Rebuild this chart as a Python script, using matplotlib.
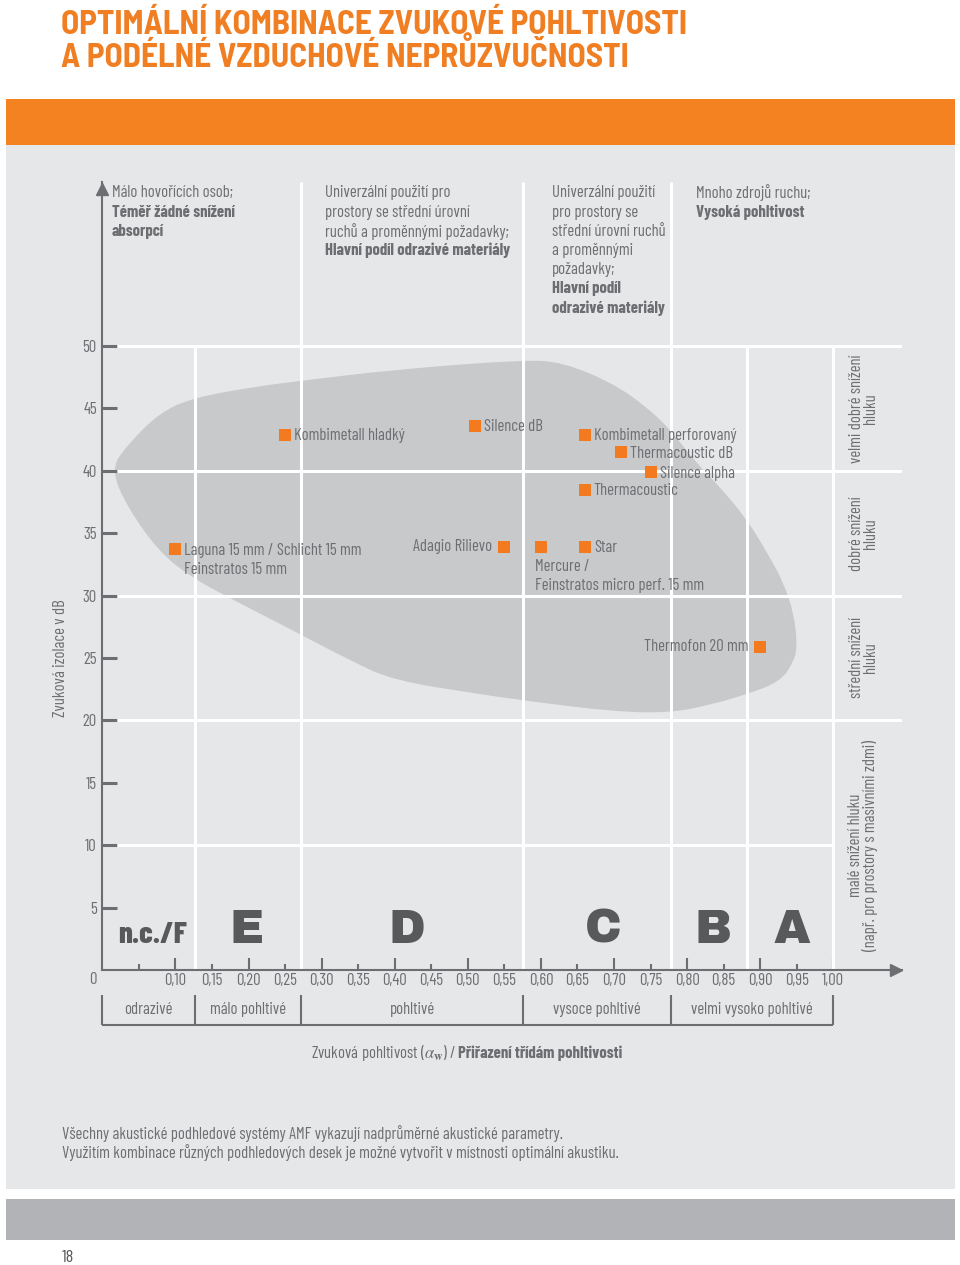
import matplotlib as mpl
import matplotlib.pyplot as plt
from matplotlib.patches import Rectangle, PathPatch
from matplotlib.path import Path
import numpy as np

BODY = ['Barlow Condensed', 'Liberation Sans', 'DejaVu Sans']
TITLE = ['Barlow Semi Condensed', 'Barlow Condensed', 'Liberation Sans',
         'DejaVu Sans']
HEAVY = ['Archivo Black', 'Liberation Sans', 'DejaVu Sans']
mpl.rcParams['font.family'] = BODY
mpl.rcParams['mathtext.fontset'] = 'stix'

ORANGE = '#F07E22'
MARK = '#F47A20'
PANEL = '#E6E7E8'
BLOB = '#C8C9CB'
TEXT = '#6D6E71'
DARK = '#58595B'
FS = 12

# --- data -------------------------------------------------------------
y_ticks = [5, 10, 15, 20, 25, 30, 35, 40, 45, 50]
x_major = [0.10, 0.20, 0.30, 0.40, 0.50, 0.60, 0.70, 0.80, 0.90, 1.00]
x_minor = [0.05, 0.15, 0.25, 0.35, 0.45, 0.55, 0.65, 0.75, 0.85, 0.95]

class_bounds = [0.0, 0.127, 0.272, 0.576, 0.778, 1.0]
class_names = ['odrazivé', 'málo pohltivé', 'pohltivé', 'vysoce pohltivé',
               'velmi vysoko pohltivé']
header_bounds = [0.272, 0.576, 0.778]
class_grid = [0.127, 0.882, 1.0]
letters = ['n.c./F', 'E', 'D', 'C', 'B', 'A']
letter_x = [0.068, 0.197, 0.416, 0.685, 0.835, 0.944]

products = ['Kombimetall hladký', 'Silence dB',
            'Laguna 15 mm / Schlicht 15 mm\nFeinstratos 15 mm',
            'Adagio Rilievo', 'Mercure /\nFeinstratos micro perf. 15 mm',
            'Star', 'Kombimetall perforovaný', 'Thermacoustic dB',
            'Silence alpha', 'Thermacoustic', 'Thermofon 20 mm']
alpha_w = [0.25, 0.51, 0.10, 0.55, 0.60, 0.66, 0.66, 0.71, 0.75, 0.66, 0.90]
isolation = [42.9, 43.6, 33.7, 33.9, 33.9, 33.9, 42.9, 41.5, 39.9, 38.5, 25.9]
label_side = ['right', 'right', 'right', 'left', 'below', 'right', 'right',
              'right', 'right', 'right', 'left']

# outline of the grey region (alpha_w, dB)
blob_alpha = [0.012, 0.033, 0.079, 0.127, 0.216, 0.271, 0.398, 0.576, 0.630,
              0.699, 0.745, 0.777, 0.813, 0.845, 0.882, 0.913, 0.932, 0.946,
              0.951, 0.945, 0.927, 0.882, 0.835, 0.778, 0.699, 0.576, 0.517,
              0.398, 0.339, 0.261, 0.171, 0.124, 0.079, 0.034]
blob_db = [40.1, 42.0, 44.7, 45.9, 46.8, 47.2, 48.1, 48.9, 48.7, 47.0, 45.1,
           43.3, 40.6, 38.7, 36.1, 33.1, 31.0, 28.6, 25.9, 24.6, 23.1, 22.1,
           21.3, 20.6, 20.7, 21.6, 22.1, 23.2, 24.8, 27.2, 29.9, 31.4, 33.4,
           37.1]

noise_bands = [(40, 50), (30, 40), (20, 30), (0, 20)]
noise_labels = ['velmi dobré snížení\nhluku', 'dobré snížení\nhluku',
                'střední snížení\nhluku',
                'malé snížení hluku\n(např. pro prostory s masivními zdmi)']

header_cols = [
    [('Málo hovořících osob;', False), ('Téměř žádné snížení', True),
     ('absorpcí', True)],
    [('Univerzální použití pro', False), ('prostory se střední úrovní', False),
     ('ruchů a proměnnými požadavky;', False),
     ('Hlavní podíl odrazivé materiály', True)],
    [('Univerzální použití', False), ('pro prostory se', False),
     ('střední úrovní ruchů', False), ('a proměnnými', False),
     ('požadavky;', False), ('Hlavní podíl', True),
     ('odrazivé materiály', True)],
    [('Mnoho zdrojů ruchu;', False), ('Vysoká pohltivost', True)],
]
header_x = [112, 325, 552, 696]

# --- figure -----------------------------------------------------------
W, H = 960, 1265
fig = plt.figure(figsize=(W / 100, H / 100), dpi=100)

bg = fig.add_axes([0, 0, 1, 1], zorder=0)
bg.set_xlim(0, W)
bg.set_ylim(H, 0)
bg.axis('off')

bg.add_patch(Rectangle((6, 99), 949, 46, color='#F58220', lw=0))
bg.add_patch(Rectangle((6, 145), 949, 1044, color=PANEL, lw=0))
bg.add_patch(Rectangle((6, 1199), 949, 41, color='#B1B3B6', lw=0))

bg.text(61, 34, 'OPTIMÁLNÍ KOMBINACE ZVUKOVÉ POHLTIVOSTI', color=ORANGE,
        fontsize=24, fontweight='bold', family=TITLE, va='baseline')
bg.text(61, 67, 'A PODÉLNÉ VZDUCHOVÉ NEPRŮZVUČNOSTI', color=ORANGE,
        fontsize=24, fontweight='bold', family=TITLE, va='baseline')

for x0, col in zip(header_x, header_cols):
    for i, (line, bold) in enumerate(col):
        bg.text(x0, 193 + i * 19.2, line, color=TEXT, fontsize=FS,
                fontweight='bold' if bold else 'normal', va='center')

bg.text(457.5, 1053, r'Zvuková pohltivost ($\alpha_\mathbf{w}$) / ',
        color=TEXT, fontsize=FS, ha='right', va='center')
bg.text(458, 1053, 'Přiřazení třídám pohltivosti', color=TEXT, fontsize=FS,
        fontweight='bold', ha='left', va='center')

bg.text(62, 1134, 'Všechny akustické podhledové systémy AMF vykazují '
        'nadprůměrné akustické parametry.', color=TEXT, fontsize=FS,
        va='center')
bg.text(62, 1153, 'Využitím kombinace různých podhledových desek je možné '
        'vytvořit v místnosti optimální akustiku.', color=TEXT, fontsize=FS,
        va='center')
bg.text(62, 1258, '18', color=DARK, fontsize=13, va='center')

# main chart: 731 px per unit alpha, 12.48 px per dB
x0_px, y0_px = 102.3, 970
px_a, px_db = 731.0, 12.48
x_right, y_top = (902 - x0_px) / px_a, (y0_px - 182) / px_db
ax = fig.add_axes([x0_px / W, (H - y0_px) / H, (902 - x0_px) / W,
                   (y0_px - 182) / H], zorder=1)
ax.set_facecolor('none')
ax.set_xlim(0, x_right)
ax.set_ylim(0, y_top)

# grey region
pts = np.column_stack([blob_alpha, blob_db])
mids = (pts + np.roll(pts, -1, axis=0)) / 2
verts = [mids[-1]]
codes = [Path.MOVETO]
for p, m in zip(pts, mids):
    verts += [p, m]
    codes += [Path.CURVE3, Path.CURVE3]
ax.add_patch(PathPatch(Path(verts, codes), facecolor=BLOB, lw=0, zorder=1))

# white grid
for y in y_ticks:
    if y % 10 == 0:
        ax.hlines(y, 0.02, 1.0 if y < 20 else x_right, color='white',
                  lw=2.2, zorder=2)
ax.vlines(class_grid, 0, 50, color='white', lw=2.2, zorder=2)
ax.vlines(header_bounds, 0, y_top, color='white', lw=2.2, zorder=2)

# axes
for side in ('top', 'right'):
    ax.spines[side].set_visible(False)
for side in ('left', 'bottom'):
    ax.spines[side].set_color(TEXT)
    ax.spines[side].set_linewidth(1.5)
ax.plot(0, 0.991, marker='^', ms=8, color=TEXT, clip_on=False,
        transform=ax.get_xaxis_transform(), zorder=3)
ax.plot(0.992, 0, marker='>', ms=8, color=TEXT, clip_on=False,
        transform=ax.get_yaxis_transform(), zorder=3)

fmt = lambda v: f'{v:.2f}'.replace('.', ',')
ax.set_xticks(x_major, labels=[fmt(v) for v in x_major])
ax.set_xticks(x_minor, labels=[''] + [fmt(v) for v in x_minor[1:]],
              minor=True)
ax.set_yticks(y_ticks, labels=[str(v) for v in y_ticks])
ax.tick_params(axis='x', which='major', direction='in', length=8.6,
               width=1.5, color=TEXT, labelcolor=TEXT, labelsize=FS, pad=2)
ax.tick_params(axis='x', which='minor', direction='in', length=4.3,
               width=1.5, color=TEXT, labelcolor=TEXT, labelsize=FS, pad=2)
ax.tick_params(axis='y', direction='in', length=10.8, width=2.2, color=TEXT,
               labelcolor=TEXT, labelsize=FS, pad=4)
ax.annotate('0', (0, 0), xytext=(-9, -10), textcoords='offset pixels',
            color=TEXT, fontsize=FS, ha='center', va='center')
ax.set_ylabel('Zvuková izolace v dB', color=TEXT, fontsize=FS)
ax.yaxis.set_label_coords(-0.043, 25 / y_top)

# class letters
for lx, lt in zip(letter_x, letters):
    if lt == 'n.c./F':
        ax.text(lx, 2.2, lt, color=DARK, fontsize=22, fontweight=800,
                ha='center', va='baseline', zorder=3)
    else:
        ax.text(lx, 2.2, lt, color=DARK, fontsize=34, family=HEAVY,
                fontweight='bold', ha='center', va='baseline', zorder=3)

# bracket with absorption classes
ax.vlines(class_bounds, -2.0, -4.4, color=TEXT, lw=1.5, clip_on=False)
ax.hlines(-4.4, class_bounds[0], class_bounds[-1], color=TEXT, lw=1.5,
          clip_on=False)
for a, b, name in zip(class_bounds[:-1], class_bounds[1:], class_names):
    ax.text((a + b) / 2, -3.2, name, color=TEXT, fontsize=FS, ha='center',
            va='center', clip_on=False)

# noise reduction bands
for (lo, hi), lab in zip(noise_bands, noise_labels):
    ax.text(1.041, (lo + hi) / 2, lab, color=TEXT, fontsize=FS, rotation=90,
            ha='center', va='center', multialignment='center',
            linespacing=0.9)

# products
ax.scatter(alpha_w, isolation, marker='s', s=64, color=MARK, lw=0,
           zorder=4)
for name, a, d, side in zip(products, alpha_w, isolation, label_side):
    for i, line in enumerate(name.split('\n')):
        if side == 'right':
            off, ha = (9, -1 - 19 * i), 'left'
        elif side == 'left':
            off, ha = (-12, -19 * i), 'right'
        else:
            off, ha = (-6, -20 - 19 * i), 'left'
        ax.annotate(line, (a, d), xytext=off, textcoords='offset pixels',
                    color=TEXT, fontsize=FS, ha=ha, va='center', zorder=5)

fig.savefig('out.png', dpi=100)
